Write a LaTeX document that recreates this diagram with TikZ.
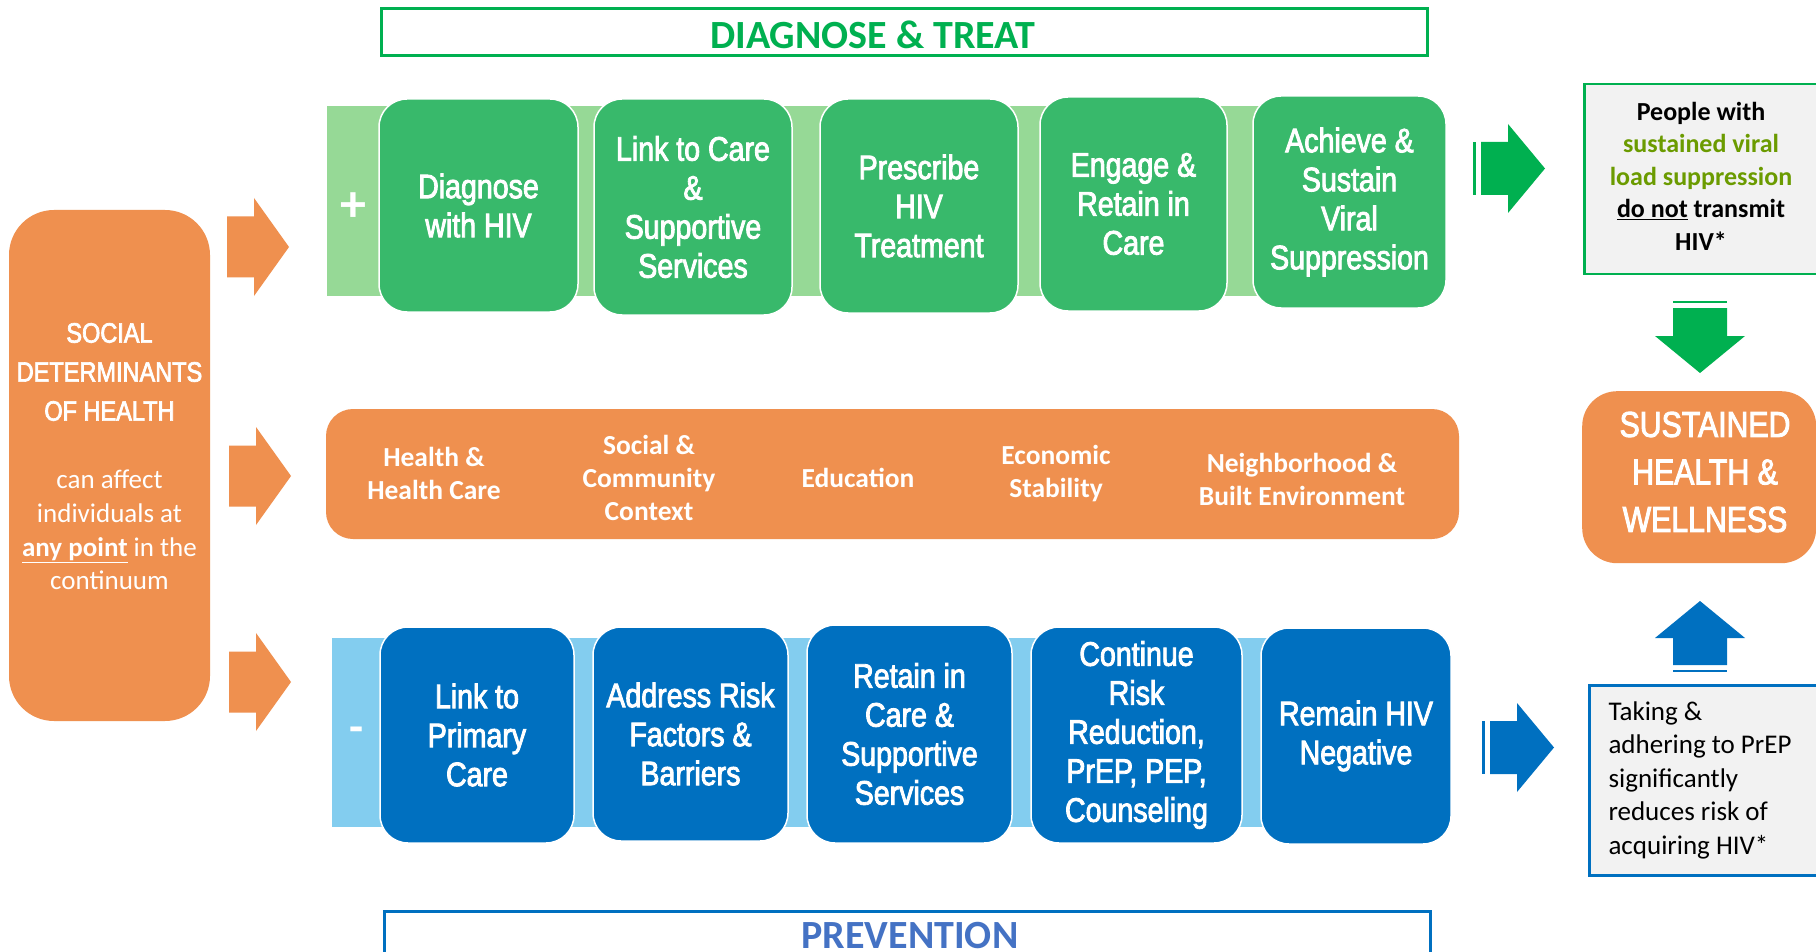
\documentclass[tikz,border=0pt]{standalone}
\usepackage{fontspec}
\setmainfont{Carlito}
\newfontfamily\cond[FakeStretch=0.84,FakeBold=2.5]{Liberation Sans}
\definecolor{gbox}{HTML}{38B96B}
\definecolor{gband}{HTML}{96D996}
\definecolor{org}{HTML}{EF904F}
\definecolor{bbox}{HTML}{0070C0}
\definecolor{bband}{HTML}{83CDEF}
\definecolor{garrow}{HTML}{00B050}
\definecolor{olive}{HTML}{6B9B00}
\definecolor{prev}{HTML}{4472C4}
\definecolor{graybg}{HTML}{F2F2F2}
\begin{document}
\begin{tikzpicture}[x=1pt,y=-1pt,
  gstep/.style={fill=gbox, draw=white, line width=1.5pt, rounded corners=28pt, text=white,
    font=\cond\fontsize{34}{39}\selectfont, align=center, inner sep=0pt},
  bstep/.style={gstep, fill=bbox},
  sz/.style 2 args={minimum width=#1, minimum height=#2},
  midtxt/.style={text=white, font=\bfseries\fontsize{27.5}{33}\selectfont, align=center, inner sep=0pt},
  blockR/.pic={\path[pic actions] (0,-30.5) -- (27,-30.5) -- (27,-49) -- (62,0) -- (27,49) -- (27,30.5) -- (0,30.5) -- cycle;},
  blockRs/.pic={\path[pic actions] (-8,-26.5) rectangle (-5,26.5);
                \path[pic actions] (0,-26.5) -- (27,-26.5) -- (27,-44.5) -- (64,0) -- (27,44.5) -- (27,26.5) -- (0,26.5) -- cycle;},
  blockD/.pic={\path[pic actions] (-27,0) rectangle (27,2);
               \path[pic actions] (-27,7) -- (27,7) -- (27,35) -- (45,35) -- (0,72) -- (-45,35) -- (-27,35) -- cycle;},
  blockU/.pic={\path[pic actions] (-27,0) rectangle (27,-2);
               \path[pic actions] (-27,-7) -- (27,-7) -- (27,-34) -- (45,-34) -- (0,-71) -- (-45,-34) -- (-27,-34) -- cycle;}
]
\useasboundingbox (0,0) rectangle (1816,952);
\clip (0,0) rectangle (1816,952);
\fill[white] (0,0) rectangle (1816,952);

% Title boxes
\node[draw=garrow, line width=3pt, sz={1046pt}{47pt}, inner sep=0pt] (dtbox) at (904,32.5) {};
\node[text=garrow, font=\bfseries\fontsize{40}{42}\selectfont] (dttxt) at (873,35) {DIAGNOSE \& TREAT};
\node[draw=bbox, line width=3pt, sz={1046pt}{60pt}, inner sep=0pt, anchor=north] (pvbox) at (907,910) {};
\node[text=prev, font=\bfseries\fontsize{40}{42}\selectfont] (pvtxt) at (910,936) {PREVENTION};

% Social determinants
\node[fill=org, rounded corners=45pt, sz={201pt}{511pt}] (sdoh) at (109.5,465.5) {};
\node[text=white, font=\cond\fontsize{28}{39}\selectfont, align=center] (sdt) at (109.5,372) {SOCIAL\\DETERMINANTS\\OF HEALTH};
\node[text=white, font=\fontsize{27}{33.7}\selectfont, align=center] (sdb) at (109.5,530) {can affect\\individuals at\\\textbf{\underline{any point}} in the\\continuum};

% left arrows
\pic[fill=org] at (227,247) {blockR};
\pic[fill=org] at (229,476) {blockR};
\pic[fill=org] at (229,682) {blockR};

% green row
\fill[gband] (327,106) rectangle (1440,296);
\node[text=white, font=\bfseries\fontsize{52}{52}\selectfont] (plus) at (353,207) {+};
\node[gstep, sz={199pt}{213pt}] (g1) at (478.5,205.5) {Diagnose\\with HIV};
\node[gstep, sz={198pt}{216pt}] (g2) at (693,207) {Link to Care\\\&\\Supportive\\Services};
\node[gstep, sz={198pt}{214pt}] (g3) at (919,206) {Prescribe\\HIV\\Treatment};
\node[gstep, sz={187pt}{214pt}] (g4) at (1133.5,204) {Engage \&\\Retain in\\Care};
\node[gstep, sz={193pt}{212pt}] (g5) at (1349.5,202) {Achieve \&\\Sustain\\Viral\\Suppression};

% middle band
\node[fill=org, rounded corners=27pt, sz={1133pt}{130pt}] (band) at (892.5,474) {};
\node[midtxt] (m1) at (434,473.5) {Health \&\\Health Care};
\node[midtxt] (m2) at (649,478) {Social \&\\Community\\Context};
\node[midtxt] (m3) at (858,478) {Education};
\node[midtxt] (m4) at (1056,473.5) {Economic\\Stability};
\node[midtxt] (m5) at (1302,479.5) {Neighborhood \&\\Built Environment};

% blue row
\fill[bband] (332,638) rectangle (1445,827);
\node[text=white, font=\bfseries\fontsize{46}{46}\selectfont] (minus) at (357,735) {-};
\node[bstep, sz={194pt}{216pt}] (b1) at (477,735) {Link to\\Primary\\Care};
\node[bstep, sz={195pt}{214pt}] (b2) at (690.5,734) {Address Risk\\Factors \&\\Barriers};
\node[bstep, sz={205pt}{218pt}] (b3) at (909.5,734) {Retain in\\Care \&\\Supportive\\Services};
\node[bstep, sz={211pt}{216pt}] (b4) at (1136.5,735) {Continue\\Risk\\Reduction,\\PrEP, PEP,\\Counseling};
\node[bstep, sz={190pt}{216pt}] (b5) at (1356,736) {Remain HIV\\Negative};

% right side
\pic[fill=garrow] at (1481,168.5) {blockRs};
\pic[fill=bbox] at (1490,747.5) {blockRs};

\node[fill=graybg, draw=garrow, line width=2.5pt, sz={250pt}{190pt}, anchor=north west] (pbox) at (1583,83) {};
\node[font=\bfseries\fontsize{26}{32.5}\selectfont, align=center] (ptxt) at (1701,176)
  {People with\\\textcolor{olive}{sustained viral}\\\textcolor{olive}{load suppression}\\\underline{do not} transmit\\HIV*};

\pic[fill=garrow] at (1700,301) {blockD};
\node[fill=org, rounded corners=35pt, sz={234pt}{172pt}, anchor=north west] (shw) at (1582,391) {};
\node[text=white, font=\cond\fontsize{36}{47.5}\selectfont, align=center] (shwtxt) at (1705,472) {SUSTAINED\\HEALTH \&\\WELLNESS};
\pic[fill=bbox] at (1700,672) {blockU};

\node[fill=graybg, draw=bbox, line width=2.5pt, sz={250pt}{190pt}, anchor=north west] (tbox) at (1588,684) {};
\node[font=\fontsize{27}{33.5}\selectfont, align=left, anchor=west] (ttxt) at (1605,780)
  {Taking \&\\adhering to PrEP\\significantly\\reduces risk of\\acquiring HIV*};
\end{tikzpicture}
\end{document}
